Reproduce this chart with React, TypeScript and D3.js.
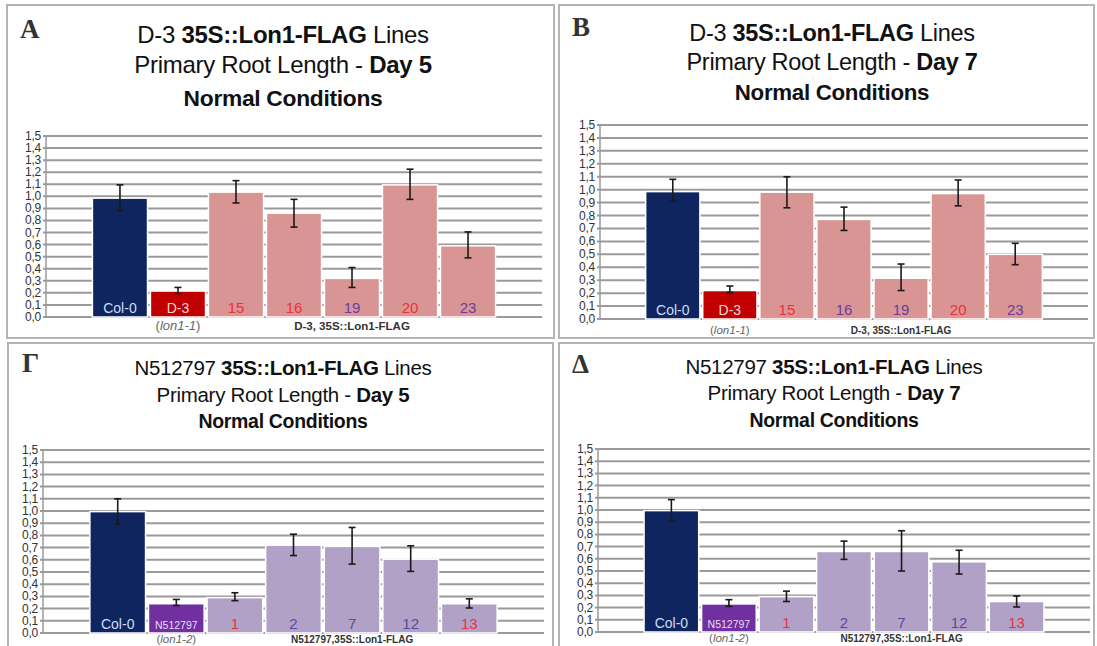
import React from "react";
import * as d3 from "d3";

// lines (x categories)
const d3Lines = ["Col-0", "D-3", "15", "16", "19", "20", "23"];
const nLines = ["Col-0", "N512797", "1", "2", "7", "12", "13"];

// relative primary root length, mean and error bar ends
const aMeans = [0.985, 0.215, 1.035, 0.86, 0.32, 1.095, 0.59];
const aLow = [0.88, 0.195, 0.945, 0.745, 0.245, 0.975, 0.49];
const aHigh = [1.095, 0.245, 1.13, 0.975, 0.41, 1.225, 0.705];

const bMeans = [0.985, 0.22, 0.98, 0.77, 0.315, 0.97, 0.5];
const bLow = [0.91, 0.205, 0.86, 0.685, 0.22, 0.875, 0.42];
const bHigh = [1.08, 0.255, 1.1, 0.865, 0.425, 1.075, 0.585];

const gMeans = [0.995, 0.24, 0.29, 0.72, 0.71, 0.605, 0.24];
const gLow = [0.89, 0.225, 0.265, 0.635, 0.565, 0.505, 0.205];
const gHigh = [1.1, 0.275, 0.33, 0.81, 0.865, 0.715, 0.28];

const dMeans = [0.995, 0.23, 0.29, 0.66, 0.66, 0.575, 0.25];
const dLow = [0.91, 0.21, 0.25, 0.595, 0.5, 0.475, 0.205];
const dHigh = [1.085, 0.265, 0.335, 0.745, 0.83, 0.67, 0.295];

const yTicks = [0, 0.1, 0.2, 0.3, 0.4, 0.5, 0.6, 0.7, 0.8, 0.9, 1.0, 1.1, 1.2, 1.3, 1.4, 1.5];

// colours
const NAVY = "#0f2560";
const RED = "#c00000";
const PINK = "#d99594";
const PURPLE = "#7030a0";
const LILAC = "#b2a1c7";
const TXT_RED = "#e8323c";
const TXT_PUR = "#6a3d9a";
const TXT_BLUE = "#5a4aa0";

const fillsD3 = [NAVY, RED, PINK, PINK, PINK, PINK, PINK];
const fillsN = [NAVY, PURPLE, LILAC, LILAC, LILAC, LILAC, LILAC];
const labA = ["#cfdcf5", "#f8d6d6", TXT_RED, TXT_RED, TXT_PUR, TXT_RED, TXT_PUR];
const labB = ["#cfdcf5", "#f8d6d6", TXT_RED, TXT_PUR, TXT_PUR, TXT_RED, TXT_PUR];
const labN = ["#cfdcf5", "#eadcf8", TXT_RED, TXT_BLUE, TXT_BLUE, TXT_BLUE, TXT_RED];

const fmt = (v) => d3.format(".1f")(v).replace(".", ",");

const SANS = "'Liberation Sans', Arial, sans-serif";

function Panel({ cfg }) {
  const { box, letter, letterPos, titleX, titleY, titleSize, title, g, cats, means, low, high, fills, labColors, sub, group, groupSize, subDy } = cfg;

  const x = d3.scaleBand().domain(cats).range([g.ax, g.x1]).paddingInner(0.05).paddingOuter(0.8);
  const y = d3.scaleLinear().domain([0, 1.5]).range([g.y0, g.y1]);
  const bw = x.bandwidth();

  const last = cats.slice(2);
  const groupX = (x(last[0]) + x(last[last.length - 1]) + bw) / 2;

  return (
    <g>
      <rect x={box.x} y={box.y} width={box.w} height={box.h} fill="#fff" stroke="#b4b4b4" strokeWidth={2} />
      <text x={letterPos[0]} y={letterPos[1]} fontFamily="'Liberation Serif', 'Times New Roman', serif" fontWeight="bold" fontSize={27} fill="#333">
        {letter}
      </text>
      {title.map((line, i) => (
        <text key={i} x={titleX} y={titleY[i]} textAnchor="middle" fontFamily={SANS} fontSize={i === 2 ? titleSize * 0.95 : titleSize} letterSpacing={-0.3} fill="#111">
          {line.map((p, j) => (
            <tspan key={j} fontWeight={p.b ? "bold" : "normal"}>{p.t}</tspan>
          ))}
        </text>
      ))}
      {yTicks.map((t) => (
        <g key={t}>
          <line x1={g.ax - 3} x2={g.x1} y1={y(t)} y2={y(t)} stroke="#9a9a9a" strokeWidth={2} />
          <text x={g.ax - 5} y={y(t) + 4} textAnchor="end" fontFamily={SANS} fontSize={12} letterSpacing={-0.2} fill="#333">
            {fmt(t)}
          </text>
        </g>
      ))}
      <line x1={g.ax} x2={g.ax} y1={y(0)} y2={y(1.5)} stroke="#9a9a9a" strokeWidth={1.5} />
      {cats.map((c, i) => (
        <rect key={c} x={x(c)} y={y(means[i])} width={bw} height={y(0) - y(means[i])} fill={fills[i]} stroke="#fff" strokeWidth={1.5} />
      ))}
      {cats.map((c, i) => {
        const cx = x(c) + bw / 2;
        return (
          <g key={c} stroke="#1a1a1a" strokeWidth={1.6}>
            <line x1={cx} x2={cx} y1={y(high[i])} y2={y(low[i])} />
            <line x1={cx - 3.5} x2={cx + 3.5} y1={y(high[i])} y2={y(high[i])} />
            <line x1={cx - 3.5} x2={cx + 3.5} y1={y(low[i])} y2={y(low[i])} />
          </g>
        );
      })}
      {cats.map((c, i) => (
        <text key={c} x={x(c) + bw / 2} y={g.y0 - 4} textAnchor="middle" fontFamily={SANS} fontSize={c.length > 5 ? 10.5 : c.length > 2 ? 14 : 15} fill={labColors[i]}>
          {c}
        </text>
      ))}
      <text x={x(cats[1]) + bw / 2} y={g.y0 + subDy} textAnchor="middle" fontFamily={SANS} fontSize={groupSize + 1.5} fill="#666">
        (<tspan fontStyle="italic">{sub}</tspan>)
      </text>
      <text x={groupX} y={g.y0 + subDy} textAnchor="middle" fontFamily={SANS} fontWeight="bold" fontSize={groupSize} fill="#333">
        {group}
      </text>
    </g>
  );
}

const titleD3 = (day) => [
  [{ t: "D-3 " }, { t: "35S::Lon1-FLAG", b: true }, { t: " Lines" }],
  [{ t: "Primary Root Length - " }, { t: day, b: true }],
  [{ t: "Normal Conditions", b: true }],
];
const titleN = (day) => [
  [{ t: "N512797 " }, { t: "35S::Lon1-FLAG", b: true }, { t: " Lines" }],
  [{ t: "Primary Root Length - " }, { t: day, b: true }],
  [{ t: "Normal Conditions", b: true }],
];

const panels = [
  {
    box: { x: 7, y: 5, w: 547, h: 333 }, letter: "A", letterPos: [20, 38],
    titleX: 283, titleY: [43, 73, 106], titleSize: 24, title: titleD3("Day 5"),
    g: { ax: 46, x1: 542, y0: 317, y1: 136 }, cats: d3Lines, means: aMeans, low: aLow, high: aHigh,
    fills: fillsD3, labColors: labA, sub: "lon1-1", group: "D-3, 35S::Lon1-FLAG", groupSize: 11.5, subDy: 13,
  },
  {
    box: { x: 559, y: 5, w: 535, h: 333 }, letter: "B", letterPos: [572, 36],
    titleX: 832, titleY: [41, 70, 100], titleSize: 23.5, title: titleD3("Day 7"),
    g: { ax: 600, x1: 1088, y0: 319, y1: 125 }, cats: d3Lines, means: bMeans, low: bLow, high: bHigh,
    fills: fillsD3, labColors: labB, sub: "lon1-1", group: "D-3, 35S::Lon1-FLAG", groupSize: 10, subDy: 15,
  },
  {
    box: { x: 8, y: 343, w: 545, h: 312 }, letter: "Γ", letterPos: [22, 372],
    titleX: 283, titleY: [375, 402, 428], titleSize: 20.5, title: titleN("Day 5"),
    g: { ax: 43, x1: 544, y0: 633, y1: 450 }, cats: nLines, means: gMeans, low: gLow, high: gHigh,
    fills: fillsN, labColors: labN, sub: "lon1-2", group: "N512797,35S::Lon1-FLAG", groupSize: 10, subDy: 10,
  },
  {
    box: { x: 559, y: 343, w: 535, h: 312 }, letter: "Δ", letterPos: [572, 373],
    titleX: 834, titleY: [374, 400, 427], titleSize: 20.5, title: titleN("Day 7"),
    g: { ax: 598, x1: 1090, y0: 632, y1: 449 }, cats: nLines, means: dMeans, low: dLow, high: dHigh,
    fills: fillsN, labColors: labN, sub: "lon1-2", group: "N512797,35S::Lon1-FLAG", groupSize: 10, subDy: 10,
  },
];

export default function App() {
  return (
    <svg width={1097} height={646} style={{ position: "absolute", left: 0, top: 0, background: "#fff" }}>
      <rect width={1097} height={646} fill="#fff" />
      {panels.map((p) => (
        <Panel key={p.letter} cfg={p} />
      ))}
    </svg>
  );
}
